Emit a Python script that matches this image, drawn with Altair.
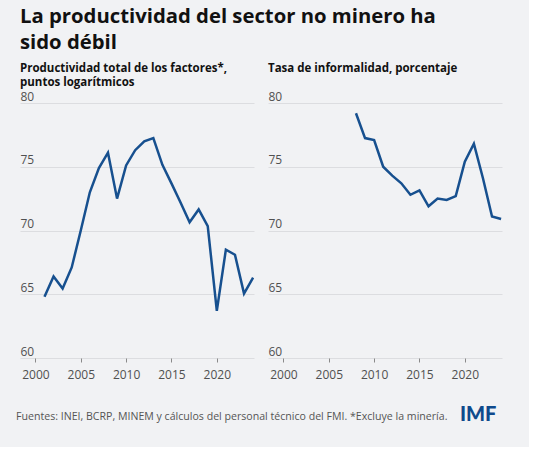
import altair as alt
import pandas as pd

# Total factor productivity of the non-mining sector (log points)
tfp_years = list(range(2001, 2025))
tfp_values = [64.8, 66.4, 65.45, 67.1, 70.0, 73.0, 74.9, 76.1, 72.5, 75.1,
              76.3, 77.0, 77.25, 75.15, 73.7, 72.2, 70.65, 71.65, 70.35, 63.7,
              68.5, 68.1, 65.05, 66.3]

# Informality rate (percent)
inf_years = list(range(2008, 2025))
inf_values = [79.2, 77.25, 77.1, 75.0, 74.3, 73.7, 72.8, 73.15, 71.9, 72.5,
              72.4, 72.7, 75.4, 76.8, 74.1, 71.1, 70.9]

x_ticks = [2000, 2005, 2010, 2015, 2020]
y_ticks = [60, 65, 70, 75, 80]

title_lines = ["La productividad del sector no minero ha", "sido débil"]
left_title = ["Productividad total de los factores*,", "puntos logarítmicos"]
right_title = ["Tasa de informalidad, porcentaje", " "]
footer_text = ("Fuentes: INEI, BCRP, MINEM y cálculos del personal técnico del FMI. "
               "*Excluye la minería.")

FONT = "Open Sans"
LINE = "#17508f"
BG = "#f1f2f4"
W, H = 234, 255

tfp = pd.DataFrame({"year": tfp_years, "value": tfp_values})
inf = pd.DataFrame({"year": inf_years, "value": inf_values})


def panel(df, title):
    x = alt.X(
        "year:Q",
        scale=alt.Scale(domain=[1998.3, 2024.1], nice=False, zero=False),
        axis=alt.Axis(values=x_ticks, format="d", title=None, grid=False,
                      domain=False, ticks=True, tickSize=4, tickColor="#8a8a8a",
                      labelPadding=7, labelFlush=False, labelFontSize=12,
                      labelColor="#505050", labelFont=FONT),
    )
    y = alt.Y(
        "value:Q",
        scale=alt.Scale(domain=[60, 80], nice=False, zero=False),
        axis=alt.Axis(values=y_ticks, title=None, grid=True, gridColor="#dcdde0",
                      domain=False, ticks=False, tickSize=0, labelAlign="left",
                      labelBaseline="alphabetic", labelPadding=0, labelOffset=-3,
                      labelFontSize=12, labelColor="#505050", labelFont=FONT,
                      labelBound=False),
    )
    return (
        alt.Chart(df)
        .mark_line(color=LINE, strokeWidth=2.5, strokeJoin="miter")
        .encode(x=x, y=y)
        .properties(
            width=W, height=H,
            title=alt.TitleParams(text=title, anchor="start", fontSize=11.5,
                                  font=FONT, fontWeight="bold", color="#111111",
                                  lineHeight=14, offset=2),
        )
    )


left = panel(tfp, left_title)
right = panel(inf, right_title)

foot_df = pd.DataFrame({"t": [footer_text]})
logo_df = pd.DataFrame({"t": ["IMF"]})
footer = alt.layer(
    alt.Chart(foot_df).mark_text(align="left", baseline="alphabetic", fontSize=10.6,
                                 font=FONT, color="#555555")
    .encode(x=alt.value(-4), y=alt.value(14), text="t:N"),
    alt.Chart(logo_df).mark_text(align="left", baseline="alphabetic", fontSize=20,
                                 font="Lato", fontWeight=900, color="#0f4a8c")
    .encode(x=alt.value(440), y=alt.value(15), text="t:N"),
).properties(width=W * 2 + 9, height=20)

chart = (
    alt.vconcat(alt.hconcat(left, right, spacing=9), footer, spacing=25)
    .properties(
        title=alt.TitleParams(text=title_lines, anchor="start", frame="group",
                              fontSize=20.3, font=FONT, fontWeight="bold",
                              color="#111111", lineHeight=26, offset=9),
        padding={"left": 16, "top": 7, "right": 22, "bottom": 21},
        background=BG,
    )
    .configure_view(stroke=None)
)

chart.save("out.html", embed_options={"renderer": "svg", "actions": False})
